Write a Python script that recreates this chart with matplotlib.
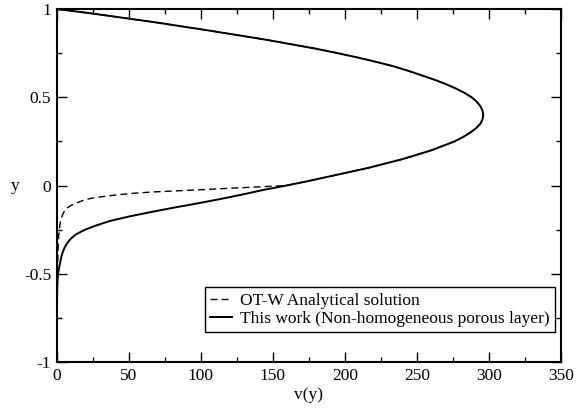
import matplotlib
matplotlib.use("Agg")
import matplotlib.pyplot as plt
from matplotlib.ticker import MultipleLocator

plt.rcParams["font.family"] = ["Liberation Serif", "DejaVu Serif"]

# upper branch, shared by both curves
upper_y = [1.0, 0.975, 0.95, 0.925, 0.9, 0.875, 0.85, 0.825, 0.8, 0.775,
           0.75, 0.725, 0.7, 0.675, 0.65, 0.625, 0.6, 0.575, 0.55, 0.525,
           0.5, 0.475, 0.45, 0.425, 0.4, 0.375, 0.35, 0.325, 0.3, 0.275,
           0.25, 0.225, 0.2, 0.175, 0.15, 0.125, 0.1, 0.075, 0.05, 0.025, 0.0]
upper_v = [0, 24, 46, 68, 88, 108, 127, 146, 163, 180,
           195, 209, 222, 234, 244, 253, 262, 270, 277, 283,
           288, 291.5, 294, 295.5, 296, 295.5, 294, 291, 287, 282,
           276, 268, 260, 250, 240, 228, 216, 202, 188, 174, 159]

# porous layer part, this work
work_y = [-0.025, -0.05, -0.075, -0.1, -0.125, -0.15, -0.175, -0.2, -0.225,
          -0.25, -0.275, -0.3, -0.325, -0.35, -0.375, -0.4, -0.45, -0.5,
          -0.55, -0.6, -0.7, -0.8, -1.0]
work_v = [143, 129, 114, 98, 81, 65, 50, 37, 27.5,
          19.5, 13.5, 9.8, 7.3, 5.5, 4.2, 3.3, 2.0, 0.9,
          0.5, 0.3, 0.15, 0.08, 0]

# porous layer part, OT-W analytical
otw_y = [-0.007, -0.015, -0.025, -0.036, -0.044, -0.053, -0.063, -0.073,
         -0.086, -0.1, -0.114, -0.128, -0.145, -0.166, -0.19, -0.22, -0.29,
         -0.4, -0.5, -0.7, -1.0]
otw_v = [140, 120, 95, 66, 52, 41, 31, 23,
         17.5, 13, 9.5, 7, 5.3, 4, 3, 2.2, 1.3,
         0.8, 0.4, 0.1, 0]

fig = plt.figure(figsize=(5.8, 4.08), dpi=100)
ax = fig.add_axes([0.0978, 0.112, 0.8695, 0.866])

ax.plot(upper_v + otw_v, upper_y + otw_y, color="black", lw=1.0,
        dashes=(5, 3), label="OT-W Analytical solution")
ax.plot(upper_v + work_v, upper_y + work_y, color="black", lw=1.4,
        label="This work (Non-homogeneous porous layer)")

ax.set_xlim(0, 350)
ax.set_ylim(-1, 1)
ax.xaxis.set_major_locator(MultipleLocator(50))
ax.xaxis.set_minor_locator(MultipleLocator(25))
ax.yaxis.set_minor_locator(MultipleLocator(0.25))
ax.set_yticks([-1, -0.5, 0, 0.5, 1])
ax.set_yticklabels(["-1", "-0.5", "0", "0.5", "1"])

ax.tick_params(which="both", direction="in", top=True, right=True,
               labelsize=12.5, width=1.0)
ax.tick_params(which="major", length=7, pad=4)
ax.tick_params(which="minor", length=3.5)
for s in ax.spines.values():
    s.set_linewidth(1.5)

ax.set_xlabel("v(y)", fontsize=12.5, labelpad=2)
ax.set_ylabel("y", fontsize=12.5, rotation=0, ha="center", va="center")
ax.yaxis.set_label_coords(-0.083, 0.5)

leg = ax.legend(loc="lower right", bbox_to_anchor=(0.988, 0.086),
                borderaxespad=0, fontsize=12.5, fancybox=False, framealpha=1,
                handlelength=1.3, handletextpad=0.45, borderpad=0.3,
                labelspacing=0.1)
leg.get_frame().set_edgecolor("black")
leg.get_frame().set_linewidth(1.0)

fig.savefig("out.png", dpi=100)
